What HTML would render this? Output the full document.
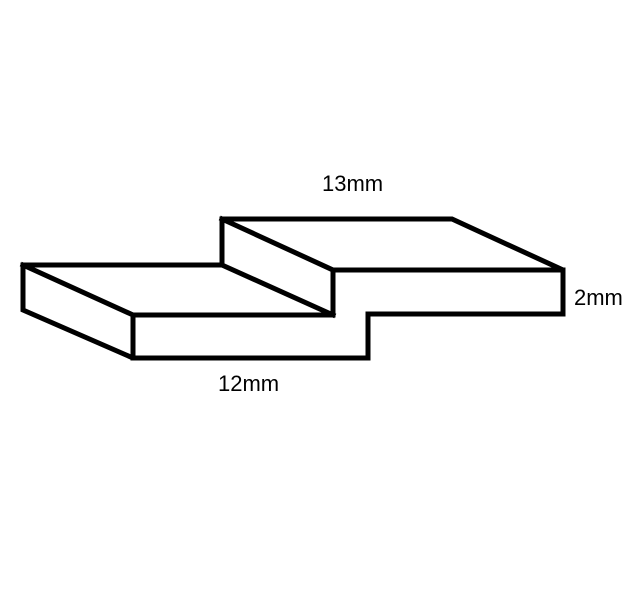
<!DOCTYPE html>
<html><head><style>body{margin:0;background:#fff}svg{display:block}</style></head>
<body>
<svg width="641" height="613" viewBox="0 0 641 613" xmlns="http://www.w3.org/2000/svg">
<rect width="641" height="613" fill="#fff"/>
<g fill="none" stroke="#000" stroke-width="5" stroke-linejoin="miter" stroke-linecap="square">
<path d="M23,265 L222,265 L222,219 L452,219 L563,270 L563,314 L368,314 L368,358 L133,358 L23,310 Z"/>
<path d="M23,265 L133,315 L133,358"/>
<path d="M133,315 L333,315 L333,270 L563,270"/>
<path d="M222,219 L333,270"/>
<path d="M222,265 L333,315"/>
</g>
<g font-family="Liberation Sans, Arial, sans-serif" font-size="22" fill="#000">
<text x="322" y="191">13mm</text>
<text x="574" y="305">2mm</text>
<text x="218" y="391">12mm</text>
</g>
</svg>
</body></html>
